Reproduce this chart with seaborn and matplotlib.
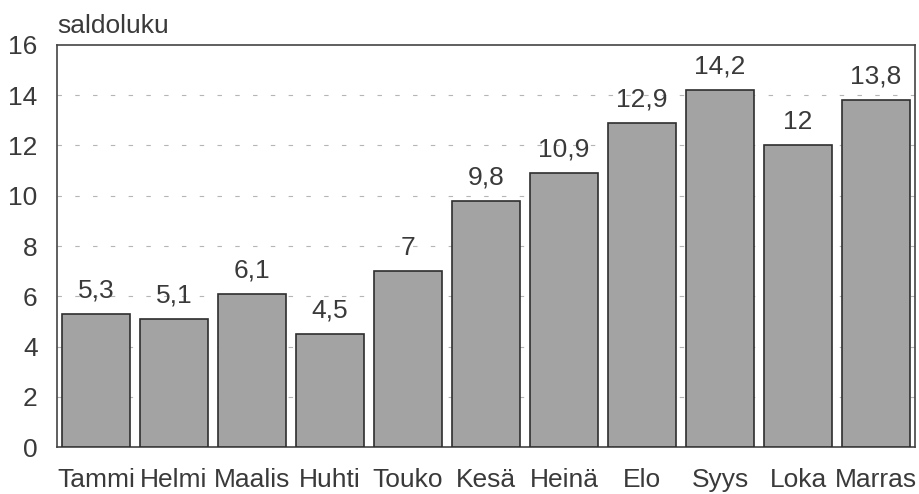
import matplotlib
matplotlib.use("Agg")
import matplotlib.pyplot as plt
import seaborn as sns
import pandas as pd

# Kuukaudet ja saldoluvut
months = ["Tammi", "Helmi", "Maalis", "Huhti", "Touko", "Kesä",
          "Heinä", "Elo", "Syys", "Loka", "Marras"]
values = [5.3, 5.1, 6.1, 4.5, 7.0, 9.8, 10.9, 12.9, 14.2, 12.0, 13.8]
value_labels = ["5,3", "5,1", "6,1", "4,5", "7", "9,8",
                "10,9", "12,9", "14,2", "12", "13,8"]
y_ticks = [0, 2, 4, 6, 8, 10, 12, 14, 16]

sns.set_theme(style="white")
plt.rcParams['font.family'] = ['Liberation Sans', 'DejaVu Sans']

text_col = '#3a3a3a'
fs = 19
df = pd.DataFrame({'Kuukausi': months, 'Saldo': values})

fig = plt.figure(figsize=(9.2, 4.94), dpi=100)
ax = fig.add_axes([0.062, 0.095, 0.9326, 0.814])

sns.barplot(data=df, x='Kuukausi', y='Saldo', color='#a3a3a3', saturation=1,
            width=0.86, edgecolor='#2e2e2e', linewidth=1.2, ax=ax, zorder=3)

ax.set_ylim(0, 16)
ax.set_xlim(-0.5, len(months) - 0.5)
ax.set_yticks(y_ticks)
ax.set_yticklabels([str(t) for t in y_ticks])
ax.set_xlabel('')
ax.set_ylabel('')

for t in y_ticks[1:-1]:
    ax.axhline(t, color='#b5b5b5', linewidth=0.8, dashes=(4, 12), zorder=1)

for i, (v, lab) in enumerate(zip(values, value_labels)):
    ax.text(i, v + 0.45, lab, ha='center', va='bottom', fontsize=fs, color=text_col)

ax.tick_params(axis='y', length=0, pad=14, labelsize=fs, labelcolor=text_col)
ax.tick_params(axis='x', length=0, pad=15, labelsize=fs, labelcolor=text_col)

for s in ax.spines.values():
    s.set_visible(True)
    s.set_color('#444444')
    s.set_linewidth(1.2)

ax.text(0.0, 1.03, 'saldoluku', transform=ax.transAxes, ha='left', va='baseline',
        fontsize=fs, color=text_col)

fig.savefig('out.png', dpi=100)
